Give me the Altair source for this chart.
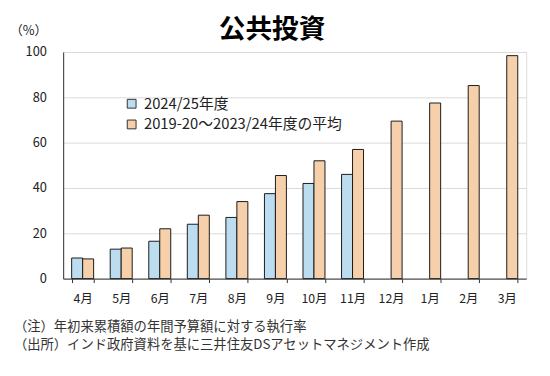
import altair as alt
import pandas as pd

months = ["4月", "5月", "6月", "7月", "8月", "9月", "10月", "11月", "12月", "1月", "2月", "3月"]
series_names = ["2024/25年度", "2019-20～2023/24年度の平均"]
current = [9.1, 13.0, 16.5, 24.0, 27.0, 37.5, 42.0, 46.0, None, None, None, None]
average = [8.7, 13.5, 22.0, 28.0, 34.0, 45.5, 52.0, 57.0, 69.5, 77.5, 85.2, 98.4]
y_ticks = [0, 20, 40, 60, 80, 100]
title_text = "公共投資"
unit_text = "（%）"
notes = ["（注）年初来累積額の年間予算額に対する執行率",
         "（出所）インド政府資料を基に三井住友DSアセットマネジメント作成"]

rows = []
for m, c, a in zip(months, current, average):
    if c is not None:
        rows.append({"month": m, "series": series_names[0], "value": c})
    rows.append({"month": m, "series": series_names[1], "value": a})
df = pd.DataFrame(rows)

FONT = "Noto Sans CJK JP"

bars = alt.Chart(df).mark_bar(stroke="#1a1a1a", strokeWidth=1).encode(
    x=alt.X("month:N", sort=months, title=None,
            scale=alt.Scale(paddingInner=0.43, paddingOuter=0.22),
            axis=alt.Axis(labelAngle=0, labelFontSize=12.5, labelFont=FONT, labelColor="#222",
                          labelPadding=10, tickBand="extent", tickSize=4, tickColor="#333",
                          domainColor="#333", grid=False)),
    xOffset=alt.XOffset("series:N", sort=series_names),
    y=alt.Y("value:Q", title=None,
            scale=alt.Scale(domain=[0, 100]),
            axis=alt.Axis(values=y_ticks, labelFontSize=13, labelFont=FONT, labelColor="#222",
                          labelPadding=17, tickSize=0, domainColor="#333",
                          gridColor="#d9d9d9", gridWidth=1)),
    fill=alt.Fill("series:N", sort=series_names,
                  scale=alt.Scale(domain=series_names, range=["#bcdcf0", "#f6d0aa"]),
                  legend=alt.Legend(title=None, orient="none", legendX=62, legendY=45,
                                    symbolType="square", symbolSize=80, symbolStrokeWidth=1,
                                    symbolStrokeColor="#333", labelFontSize=15, labelFont=FONT,
                                    labelColor="#222", rowPadding=5, labelOffset=5,
                                    labelLimit=500)),
)

unit = alt.Chart(pd.DataFrame({"t": [unit_text]})).mark_text(
    fontSize=13, font=FONT, color="#222", align="left", baseline="middle"
).encode(text="t:N", x=alt.value(-54), y=alt.value(-21))

note1 = alt.Chart(pd.DataFrame({"t": [notes[0]]})).mark_text(
    fontSize=13.5, font=FONT, color="#333", align="left", baseline="middle"
).encode(text="t:N", x=alt.value(-50), y=alt.value(279))
note2 = alt.Chart(pd.DataFrame({"t": [notes[1]]})).mark_text(
    fontSize=13.5, font=FONT, color="#333", align="left", baseline="middle"
).encode(text="t:N", x=alt.value(-50), y=alt.value(297))

chart = alt.layer(bars, unit, note1, note2).properties(
    width=470, height=230,
    title=alt.TitleParams(title_text, fontSize=27, fontWeight="bold", font=FONT, color="#000",
                          anchor="middle", dx=-23, offset=-19),
    autosize=alt.AutoSizeParams(type="none"),
    padding={"left": 56, "top": 42, "right": 16, "bottom": 86},
).configure_view(stroke="#222", strokeWidth=1).configure(background="white")

chart.save("out.html", embed_options={"renderer": "svg", "actions": False})
